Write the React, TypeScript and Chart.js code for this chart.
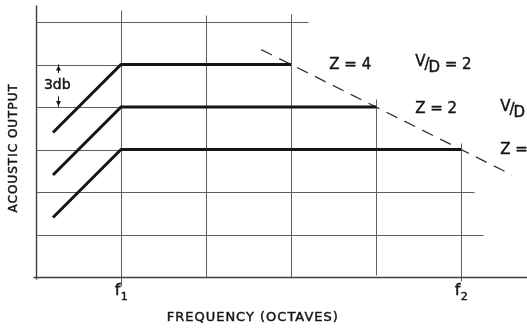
import React, { useEffect, useRef } from "react";
import { Chart, registerables } from "chart.js";

Chart.register(...registerables);

// Horizontal axis in octaves (0 = left edge, f1 = 1, f2 = 5); vertical axis in 3 dB steps.
const X_MAX = 5.776;
const Y_MAX = 6.4;
const xTicks = [1, 5];
const xTickBase = ["f", "f"];
const xTickSub = ["1", "2"];

// Response curves for each Z value
const curveZ4 = [
  { x: 0.2, y: 3.4 },
  { x: 1, y: 5 },
  { x: 3, y: 5 },
];
const curveZ2 = [
  { x: 0.2, y: 2.4 },
  { x: 1, y: 4 },
  { x: 4, y: 4 },
];
const curveZ1 = [
  { x: 0.2, y: 1.4 },
  { x: 1, y: 3 },
  { x: 5, y: 3 },
];
// Upper-frequency limit (falls 3 dB per octave)
const limitLine = [
  { x: 2.65, y: 5.35 },
  { x: 5.6, y: 2.4 },
];

// Grid segments: [x, yFrom, yTo] and [y, xFrom, xTo]
const vGrid = [
  [1, -0.22, 6.28],
  [2, 0, 6.16],
  [3, 0, 6.2],
  [4, 0.05, 4.2],
  [5, -0.1, 3.15],
];
const hGrid = [
  [6, 0, 3.2],
  [5, 0, 3],
  [4, 0, 4],
  [3, 0, 5],
  [2, 0, 5.15],
  [1, 0, 5.26],
];

// Curve labels and where they sit (left edge, vertical centre)
const zLabels = ["Z = 4", "Z = 2", "Z = 1"];
const zLabelAt = [
  [3.45, 4.98],
  [4.46, 3.95],
  [5.46, 2.99],
];
const vdLabelAt = [
  [4.46, 4.98],
  [5.46, 3.93],
];
const stepLabel = "3db";
const xTitle = "FREQUENCY (OCTAVES)";
const yTitle = "ACOUSTIC OUTPUT";

const INK = "#151515";
const GRID = "#5e5e5e";
const FONT = "'DejaVu Sans', sans-serif";

// Text with a hairline outline so the lettering reads a little heavier
function inkText(ctx: CanvasRenderingContext2D, t: string, x: number, y: number) {
  ctx.fillText(t, x, y);
  ctx.strokeText(t, x, y);
}

const diagramPlugin = {
  id: "diagram",
  beforeDatasetsDraw(chart: any) {
    const { ctx, scales } = chart;
    const px = (v: number) => Math.round(scales.x.getPixelForValue(v)) + 0.5;
    const py = (v: number) => Math.round(scales.y.getPixelForValue(v)) + 0.5;
    ctx.save();
    ctx.strokeStyle = GRID;
    ctx.lineWidth = 1;
    for (const [gx, y0, y1] of vGrid) {
      ctx.beginPath();
      ctx.moveTo(px(gx), py(y0));
      ctx.lineTo(px(gx), py(y1));
      ctx.stroke();
    }
    for (const [gy, x0, x1] of hGrid) {
      ctx.beginPath();
      ctx.moveTo(px(x0), py(gy));
      ctx.lineTo(px(x1), py(gy));
      ctx.stroke();
    }
    // axes
    ctx.strokeStyle = "#404040";
    ctx.lineWidth = 1.4;
    ctx.beginPath();
    ctx.moveTo(px(0), py(-0.05));
    ctx.lineTo(px(0), py(Y_MAX));
    ctx.stroke();
    ctx.beginPath();
    ctx.moveTo(px(-0.03), py(0));
    ctx.lineTo(px(X_MAX), py(0));
    ctx.stroke();
    ctx.restore();
  },
  afterDatasetsDraw(chart: any) {
    const { ctx, scales } = chart;
    const px = (v: number) => scales.x.getPixelForValue(v);
    const py = (v: number) => scales.y.getPixelForValue(v);
    ctx.save();
    ctx.fillStyle = INK;
    ctx.strokeStyle = INK;
    ctx.lineWidth = 0.45;
    ctx.textBaseline = "middle";
    ctx.textAlign = "left";

    // Z labels
    ctx.font = `15px ${FONT}`;
    zLabels.forEach((t, i) => {
      const [lx, ly] = zLabelAt[i];
      inkText(ctx, t, px(lx), py(ly));
    });

    // V/D = 2 labels
    for (const [lx, ly] of vdLabelAt) {
      let x = px(lx);
      const y = py(ly);
      inkText(ctx, "V", x, y - 3);
      x += ctx.measureText("V").width - 1;
      inkText(ctx, "/", x, y);
      x += ctx.measureText("/").width - 1;
      inkText(ctx, "D", x, y + 3);
      x += ctx.measureText("D").width;
      inkText(ctx, " = 2", x, y);
    }

    // frequency markers f1, f2 under the axis
    xTicks.forEach((v, i) => {
      const cx = px(v);
      const y = py(0) + 14;
      ctx.font = `16px ${FONT}`;
      const wb = ctx.measureText(xTickBase[i]).width;
      ctx.font = `11px ${FONT}`;
      const ws = ctx.measureText(xTickSub[i]).width;
      const x0 = cx - (wb + ws) / 2;
      ctx.font = `16px ${FONT}`;
      inkText(ctx, xTickBase[i], x0, y);
      ctx.font = `11px ${FONT}`;
      inkText(ctx, xTickSub[i], x0 + wb + 0.5, y + 6);
    });

    // 3 dB step marker
    ctx.lineWidth = 1;
    const ax = Math.round(px(0.26)) + 0.5;
    ctx.beginPath();
    ctx.moveTo(ax, py(5));
    ctx.lineTo(ax, py(4.8));
    ctx.moveTo(ax, py(4.25));
    ctx.lineTo(ax, py(4));
    ctx.stroke();
    ctx.beginPath();
    ctx.moveTo(ax, py(5) + 1);
    ctx.lineTo(ax - 2.5, py(5) + 6);
    ctx.lineTo(ax + 2.5, py(5) + 6);
    ctx.closePath();
    ctx.moveTo(ax, py(4) - 1);
    ctx.lineTo(ax - 2.5, py(4) - 6);
    ctx.lineTo(ax + 2.5, py(4) - 6);
    ctx.closePath();
    ctx.fill();
    ctx.lineWidth = 0.45;
    ctx.font = `14px ${FONT}`;
    ctx.textAlign = "center";
    inkText(ctx, stepLabel, px(0.25), py(4.5));

    // axis titles
    (ctx as any).letterSpacing = "1px";
    ctx.font = `13px ${FONT}`;
    inkText(ctx, xTitle, px(2.55), chart.height - 13);
    ctx.font = `12px ${FONT}`;
    ctx.translate(14, py(3.04));
    ctx.rotate(-Math.PI / 2);
    inkText(ctx, yTitle, 0, 0);
    ctx.restore();
  },
};

export default function App() {
  const ref = useRef<HTMLCanvasElement>(null);

  useEffect(() => {
    if (!ref.current) return;
    const curve = (data: any[]) => ({
      data,
      showLine: true,
      borderColor: INK,
      borderWidth: 3,
      pointRadius: 0,
      borderCapStyle: "butt" as const,
    });
    const chart = new Chart(ref.current, {
      type: "scatter",
      data: {
        datasets: [
          curve(curveZ4),
          curve(curveZ2),
          curve(curveZ1),
          {
            data: limitLine,
            showLine: true,
            borderColor: "#333",
            borderWidth: 1.3,
            borderDash: [12, 8],
            pointRadius: 0,
          },
        ],
      },
      options: {
        animation: false,
        responsive: false,
        events: [],
        layout: { padding: { left: 36, top: 5, right: 0, bottom: 54 } },
        plugins: {
          legend: { display: false },
          tooltip: { enabled: false },
        },
        scales: {
          x: { type: "linear", display: false, min: 0, max: X_MAX },
          y: { type: "linear", display: false, min: 0, max: Y_MAX },
        },
      },
      plugins: [diagramPlugin],
    });
    return () => chart.destroy();
  }, []);

  return (
    <div style={{ position: "fixed", left: 0, top: 0, width: 527, height: 331, background: "#fff" }}>
      <canvas ref={ref} width={527} height={331} />
    </div>
  );
}
